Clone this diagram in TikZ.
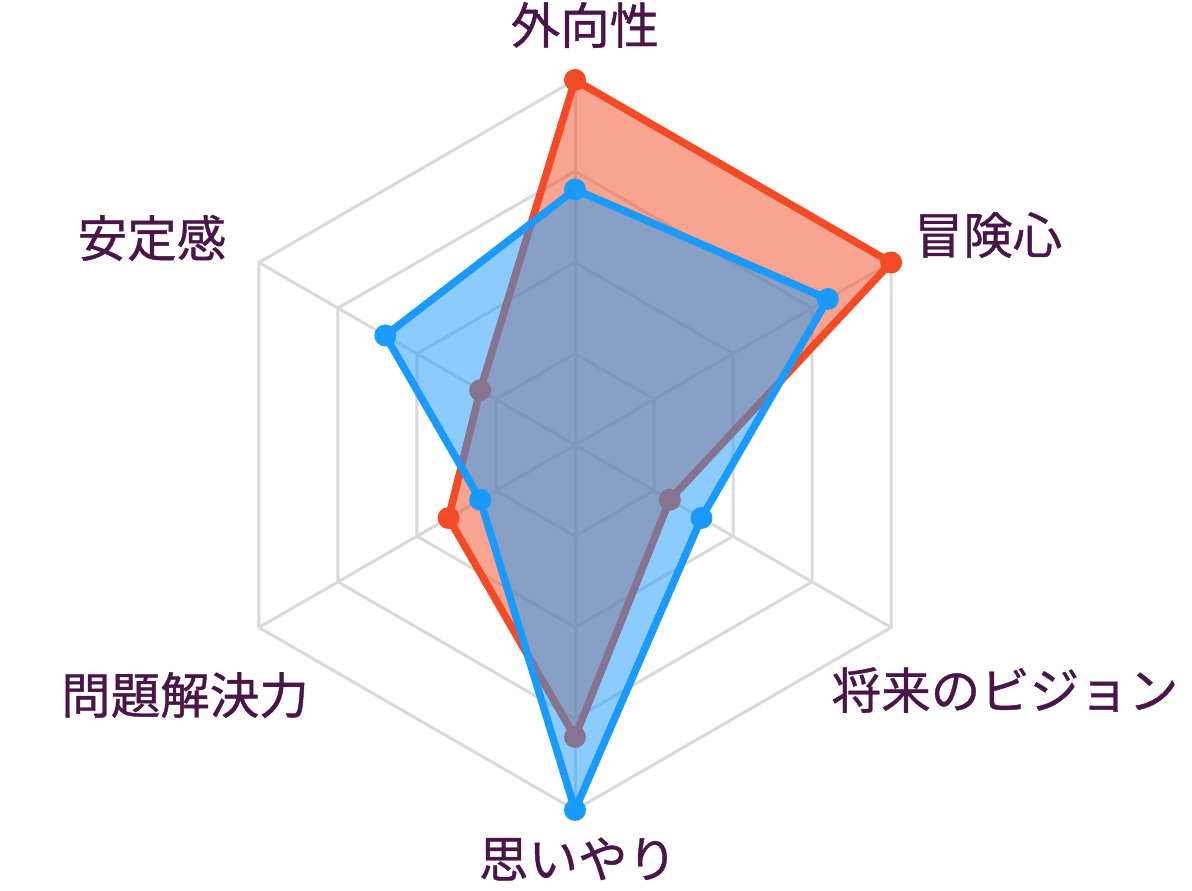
\documentclass[tikz,border=0pt]{standalone}
\usepackage{fontspec}
\setmainfont{Noto Sans CJK JP}
\newfontfamily\labelfont{Noto Sans CJK JP}[FakeBold=0.8]
\definecolor{gridgray}{HTML}{DADADA}
\definecolor{redc}{HTML}{F24B25}
\definecolor{bluec}{HTML}{1A9BFC}
\definecolor{labelc}{HTML}{4A1548}
\tikzset{
  gridline/.style={draw=gridgray, line width=3pt},
  redpoly/.style={draw=redc, line width=7.5pt, line join=round},
  redfill/.style={fill=redc, fill opacity=0.5},
  bluepoly/.style={draw=bluec, line width=7.5pt, line join=round},
  bluefill/.style={fill=bluec, fill opacity=0.5},
  reddot/.style={fill=redc},
  bluedot/.style={fill=bluec},
  axislabel/.style={text=labelc, font=\labelfont\fontsize{49.5}{58}\selectfont, inner sep=0pt}
}
\begin{document}
\begin{tikzpicture}[x=1pt,y=1pt]
\useasboundingbox[fill=white] (0,0) rectangle (1192,891);
\coordinate (c) at (575,446);
\begin{scope}[shift={(c)}]
  % grid
  \foreach \r in {91.25,182.5,273.75,365}{
    \draw[gridline] (90:\r) -- (30:\r) -- (-30:\r) -- (-90:\r) -- (-150:\r) -- (150:\r) -- cycle;
  }
  \foreach \a in {90,30,-30,-90,-150,150}{
    \draw[gridline] (0,0) -- (\a:365);
  }
  % red series
  \coordinate (r1) at (90:365);
  \coordinate (r2) at (30:365);
  \coordinate (r3) at (-30:109.5);
  \coordinate (r4) at (-90:292);
  \coordinate (r5) at (-150:146);
  \coordinate (r6) at (150:109.5);
  % blue series
  \coordinate (b1) at (90:255.5);
  \coordinate (b2) at (30:292);
  \coordinate (b3) at (-30:146);
  \coordinate (b4) at (-90:365);
  \coordinate (b5) at (-150:109.5);
  \coordinate (b6) at (150:219);
\end{scope}
\fill[redfill] (r1) -- (r2) -- (r3) -- (r4) -- (r5) -- (r6) -- cycle;
\draw[redpoly] (r1) -- (r2) -- (r3) -- (r4) -- (r5) -- (r6) -- cycle;
\foreach \p in {r1,r2,r3,r4,r5,r6}{ \fill[reddot] (\p) circle (11); }
\fill[bluefill] (b1) -- (b2) -- (b3) -- (b4) -- (b5) -- (b6) -- cycle;
\draw[bluepoly] (b1) -- (b2) -- (b3) -- (b4) -- (b5) -- (b6) -- cycle;
\foreach \p in {b1,b2,b3,b4,b5,b6}{ \fill[bluedot] (\p) circle (11); }
% labels
\node[axislabel] (l1) at (585,866) {外向性};
\node[axislabel] (l2) at (988,656) {冒険心};
\node[axislabel] (l3) at (1005,201) {将来のビジョン};
\node[axislabel] (l4) at (578,32) {思いやり};
\node[axislabel] (l5) at (185,196) {問題解決力};
\node[axislabel] (l6) at (152,653) {安定感};
\end{tikzpicture}
\end{document}
